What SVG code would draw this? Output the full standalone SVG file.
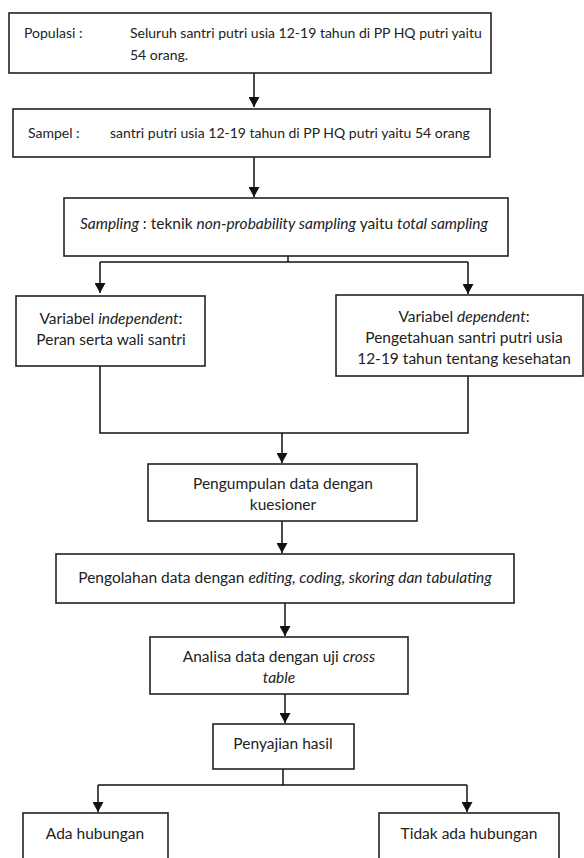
<svg xmlns="http://www.w3.org/2000/svg" width="584" height="858" viewBox="0 0 584 858">
<defs>
<marker id="ah" markerUnits="userSpaceOnUse" markerWidth="11" markerHeight="11" refX="10" refY="5.5" orient="auto">
<path d="M0,0 L10,5.5 L0,11 z" fill="#111"/>
</marker>
<style>
.box{fill:#fff;stroke:#222;stroke-width:1.6}
.t{font-family:Lato,"Noto Sans",sans-serif;font-size:15.5px;fill:#222}
.s{font-size:14px}
.c{text-anchor:middle}
.i{font-style:italic}
.ln{fill:none;stroke:#111;stroke-width:1.5}
</style>
</defs>
<rect width="584" height="858" fill="#fff"/>
<g id="connectors">
<line class="ln" x1="254" y1="73" x2="254" y2="107" marker-end="url(#ah)"/>
<line class="ln" x1="254" y1="157" x2="254" y2="197" marker-end="url(#ah)"/>
<polyline class="ln" points="288,256 288,262"/>
<polyline class="ln" points="100,262 468,262"/>
<line class="ln" x1="100" y1="262" x2="100" y2="293" marker-end="url(#ah)"/>
<line class="ln" x1="468" y1="262" x2="468" y2="294" marker-end="url(#ah)"/>
<polyline class="ln" points="100,366 100,433 468,433 468,376"/>
<line class="ln" x1="282" y1="433" x2="282" y2="463" marker-end="url(#ah)"/>
<line class="ln" x1="282" y1="521" x2="282" y2="553" marker-end="url(#ah)"/>
<line class="ln" x1="285" y1="603" x2="285" y2="636" marker-end="url(#ah)"/>
<line class="ln" x1="285" y1="694" x2="285" y2="723" marker-end="url(#ah)"/>
<polyline class="ln" points="283,769 283,785"/>
<polyline class="ln" points="98,785 467,785"/>
<line class="ln" x1="98" y1="785" x2="98" y2="812" marker-end="url(#ah)"/>
<line class="ln" x1="467" y1="785" x2="467" y2="812" marker-end="url(#ah)"/>
</g>
<g id="populasi">
<rect class="box" x="9" y="13" width="482" height="60"/>
<text class="t s" x="24" y="38">Populasi :</text>
<text class="t s" x="130" y="38">Seluruh santri putri usia 12-19 tahun di PP HQ putri yaitu</text>
<text class="t s" x="130" y="60">54 orang.</text>
</g>
<g id="sampel">
<rect class="box" x="13" y="109" width="477" height="48"/>
<text class="t s" x="28" y="138">Sampel :</text>
<text class="t s" x="110" y="138">santri putri usia 12-19 tahun di PP HQ putri yaitu 54 orang</text>
</g>
<g id="sampling">
<rect class="box" x="64" y="198" width="444" height="58"/>
<text class="t c" x="284" y="229"><tspan class="i">Sampling</tspan> : teknik <tspan class="i">non-probability sampling</tspan> yaitu <tspan class="i">total sampling</tspan></text>
</g>
<g id="independent">
<rect class="box" x="16" y="296" width="189" height="70"/>
<text class="t c" x="111" y="324">Variabel <tspan class="i">independent</tspan>:</text>
<text class="t c" x="111" y="345">Peran serta wali santri</text>
</g>
<g id="dependent">
<rect class="box" x="336" y="295" width="247" height="81"/>
<text class="t c" x="464" y="322">Variabel <tspan class="i">dependent</tspan>:</text>
<text class="t c" x="464" y="343">Pengetahuan santri putri usia</text>
<text class="t c" x="464" y="364">12-19 tahun tentang kesehatan</text>
</g>
<g id="pengumpulan">
<rect class="box" x="148" y="464" width="269" height="57"/>
<text class="t c" x="283" y="489">Pengumpulan data dengan</text>
<text class="t c" x="283" y="510">kuesioner</text>
</g>
<g id="pengolahan">
<rect class="box" x="56" y="554" width="458" height="49"/>
<text class="t c" x="285" y="583">Pengolahan data dengan <tspan class="i">editing, coding, skoring dan tabulating</tspan></text>
</g>
<g id="analisa">
<rect class="box" x="150" y="637" width="258" height="57"/>
<text class="t c" x="279" y="662">Analisa data dengan uji <tspan class="i">cross</tspan></text>
<text class="t c i" x="279" y="683">table</text>
</g>
<g id="penyajian">
<rect class="box" x="213" y="724" width="141" height="45"/>
<text class="t c" x="283" y="749">Penyajian hasil</text>
</g>
<g id="ada">
<rect class="box" x="23" y="813" width="145" height="60"/>
<text class="t c" x="95" y="839">Ada hubungan</text>
</g>
<g id="tidak">
<rect class="box" x="379" y="813" width="180" height="60"/>
<text class="t c" x="469" y="839">Tidak ada hubungan</text>
</g>
</svg>
